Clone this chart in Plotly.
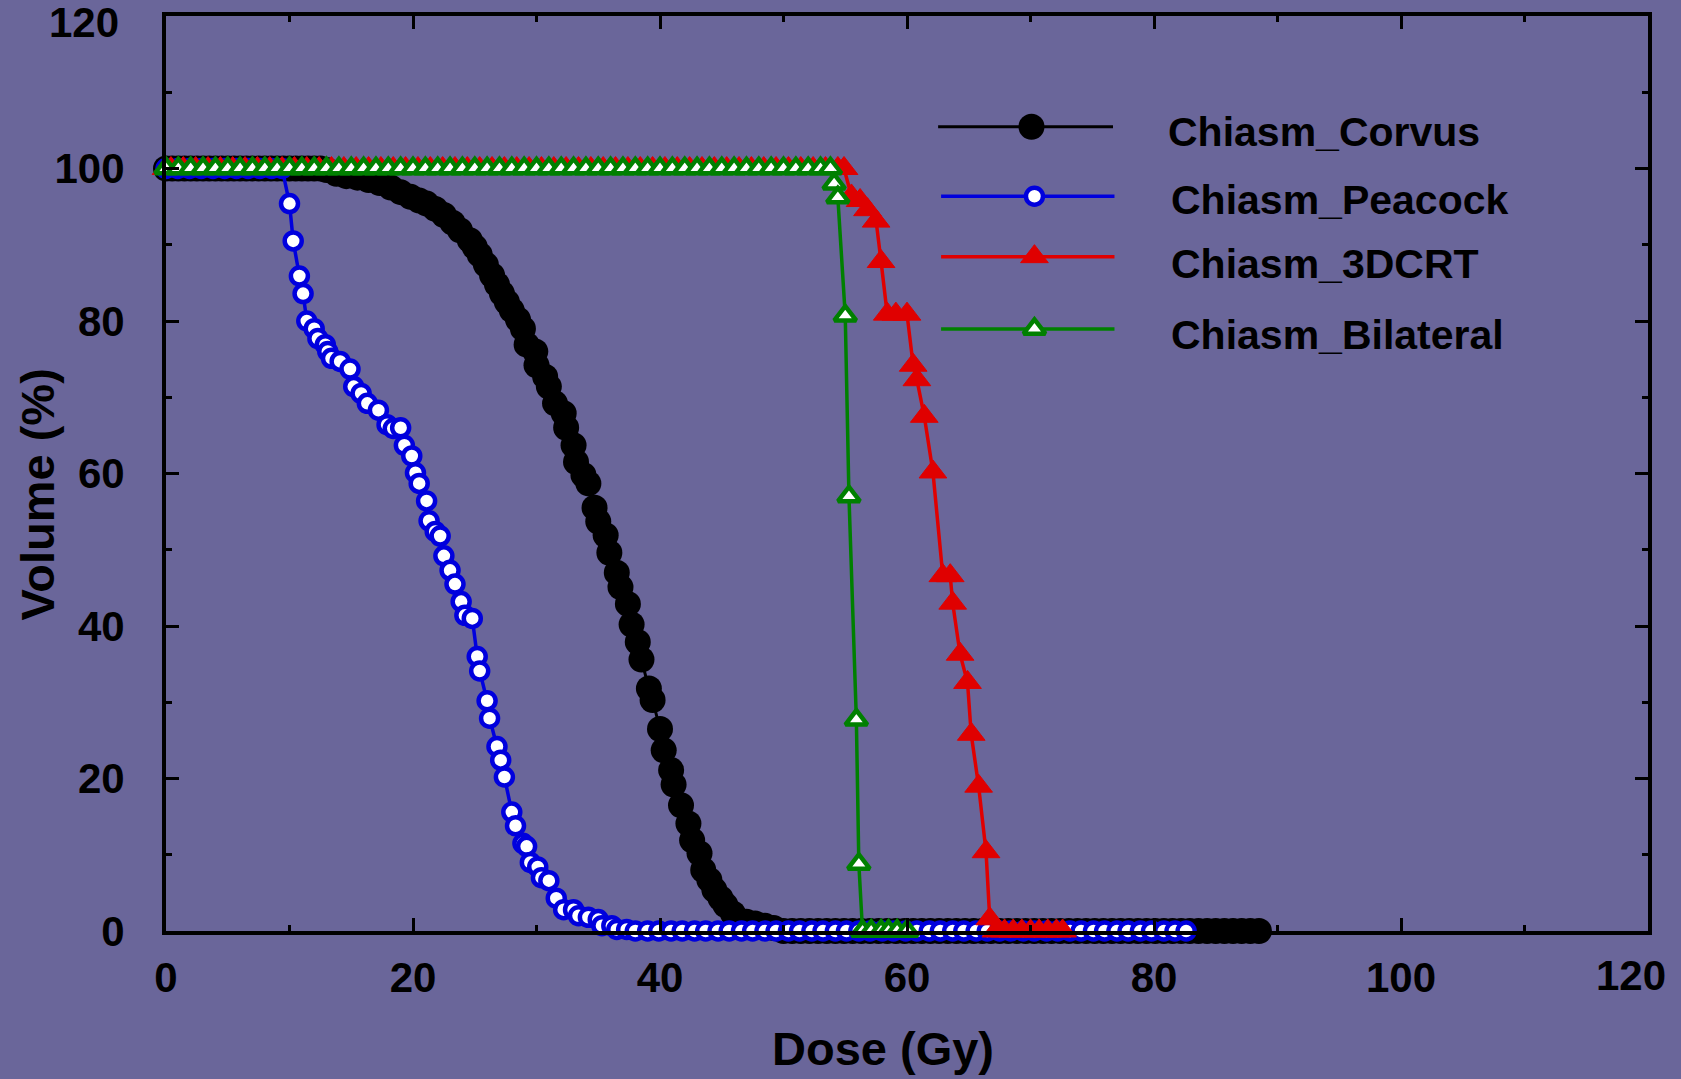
import plotly.graph_objects as go

# ---------------- data ----------------
corvus_x = [0, 0.5, 1, 1.5, 2, 2.5, 3, 3.5, 4, 4.5, 5, 5.5, 6, 6.5, 7, 7.5, 8, 8.5, 9, 9.5,
            10, 10.5, 11, 11.5, 12, 12.5,
            13.0, 13.8, 14.6, 15.5, 16.4, 17.3, 18.2, 19.0, 19.8, 20.5, 21.1, 21.8, 22.5, 23.2,
            23.8, 24.6, 25.0, 25.4, 25.9, 26.4, 26.8, 27.2, 27.6, 28.0, 28.5, 28.9, 29.2, 29.9,
            30.0, 30.7, 31.0, 31.5, 32.2, 32.4, 33.0, 33.2, 33.8, 34.2, 34.7, 35.0, 35.6, 35.9,
            36.5, 36.8, 37.4, 37.7, 38.2, 38.5, 39.1, 39.4, 40.0, 40.3, 40.9, 41.1, 41.7, 42.3,
            42.6, 43.2, 43.5, 44.0, 44.4, 44.9, 45.3, 45.9, 46.3, 47.0, 47.7, 48.5, 49.2,
            50.0, 50.7, 51.4, 52.1, 52.8, 53.5, 54.2, 54.9, 55.6, 56.3, 57.0, 57.7, 58.4, 59.1,
            59.8, 60.5, 61.2, 61.9, 62.6, 63.3, 64.0, 64.7, 65.4, 66.1, 66.8, 67.5, 68.2, 68.9,
            69.6, 70.3, 71.0, 71.7, 72.4, 73.1, 73.8, 74.5, 75.2, 75.9, 76.6, 77.3, 78.0, 78.7,
            79.4, 80.1, 80.8, 81.5, 82.2, 82.9, 83.6, 84.3, 85.0, 85.7, 86.4, 87.1, 87.8, 88.5]
corvus_y = [100] * 26 + [
            99.8, 99.3, 99.0, 98.8, 98.5, 98.1, 97.5, 96.9, 96.3, 95.8, 95.4, 94.7, 93.9, 92.9,
            91.9, 90.6, 89.7, 88.7, 87.4, 86.0, 84.8, 83.6, 82.5, 81.4, 80.2, 79.0, 76.9, 76.0,
            74.2, 72.7, 71.4, 69.2, 67.9, 66.0, 63.7, 61.5, 59.8, 58.7, 55.5, 53.7, 51.9, 49.6,
            47.0, 45.1, 42.9, 40.2, 37.9, 35.6, 31.8, 30.3, 26.5, 23.7, 21.1, 19.2, 16.5, 14.1,
            11.9, 10.2, 8.0, 6.7, 5.4, 4.3, 3.4, 2.3, 1.5, 1.2, 1.0, 0.7, 0.4] + [0] * 56

peacock_x = [0, 0.95, 1.9, 2.85, 3.8, 4.75, 5.7, 6.65, 7.6, 8.55, 9.4,
             10.0, 10.3, 10.8, 11.1, 11.4, 12.0, 12.3, 12.9, 13.1, 13.4, 14.1, 14.9, 15.2, 15.8,
             16.3, 17.2, 17.9, 18.4, 19.0, 19.3, 19.9, 20.2, 20.5, 21.1, 21.3, 21.8, 22.2, 22.5,
             23.0, 23.4, 23.9, 24.2, 24.8, 25.2, 25.4, 26.0, 26.2, 26.8, 27.1, 27.4, 28.0, 28.3,
             28.9, 29.2, 29.5, 30.1, 30.4, 31.0, 31.6, 32.2, 33.0, 33.4, 34.2, 35.0, 35.3, 36.1,
             36.5, 37.3,
             38.0, 39.0, 39.9, 40.9, 41.8, 42.8, 43.7, 44.7, 45.6, 46.6, 47.5, 48.5, 49.4, 50.4,
             51.3, 52.3, 53.2, 54.2, 55.1, 56.1, 57.0, 58.0, 58.9, 59.9, 60.8, 61.8, 62.7, 63.7,
             64.6, 65.6, 66.5, 67.5, 68.4, 69.4, 70.3, 71.3, 72.2, 73.2, 74.1, 75.1, 76.0, 77.0,
             77.9, 78.9, 79.8, 80.8, 81.7, 82.6]
peacock_y = [100] * 11 + [
             95.4, 90.5, 85.9, 83.6, 80.0, 79.0, 77.7, 76.9, 76.0, 75.1, 74.7, 73.7, 71.4, 70.5,
             69.2, 68.3, 66.4, 65.9, 66.0, 63.7, 62.3, 60.1, 58.7, 56.4, 53.8, 52.4, 51.8, 49.2,
             47.3, 45.5, 43.2, 41.4, 41.0, 36.0, 34.1, 30.2, 27.9, 24.2, 22.4, 20.2, 15.6, 13.8,
             11.5, 11.1, 9.0, 8.4, 7.0, 6.6, 4.3, 2.8, 2.8, 2.0, 1.8, 1.5, 0.7, 0.7,
             0.2, 0.2] + [0] * 48

crt_x = [0, 0.4, 1.4, 2.4, 3.4, 4.4, 5.4, 6.4, 7.4, 8.4, 9.4, 10.4, 11.4, 12.4, 13.4, 14.4,
         15.4, 16.4, 17.4, 18.4, 19.4, 20.4, 21.4, 22.4, 23.4, 24.4, 25.4, 26.4, 27.4, 28.4,
         29.4, 30.4, 31.4, 32.4, 33.4, 34.4, 35.4, 36.4, 37.4, 38.4, 39.4, 40.4, 41.4, 42.4,
         43.4, 44.4, 45.4, 46.4, 47.4, 48.4, 49.4, 50.4, 51.4, 52.4, 53.4, 54.4, 54.9,
         55.5, 56.2, 56.8, 57.5, 57.9, 58.4, 59.1, 60.0, 60.5, 60.8, 61.4, 62.1, 62.9, 63.5,
         63.7, 64.3, 64.9, 65.2, 65.8, 66.4, 66.7,
         67.2, 67.9, 68.6, 69.3, 70.0, 70.7, 71.4, 72.1, 72.6]
crt_y = [100] * 57 + [
         96.4, 95.8, 94.6, 93.1, 87.8, 80.9, 80.9, 80.9, 74.2, 72.3, 67.5, 60.2, 46.6, 46.6,
         43.0, 36.3, 32.6, 25.8, 19.0, 10.4, 1.6] + [0] * 9

bil_x = [0, 1, 2, 3, 4, 5, 6, 7, 8, 9, 10, 11, 12, 13, 14, 15, 16, 17, 18, 19, 20, 21, 22,
         23, 24, 25, 26, 27, 28, 29, 30, 31, 32, 33, 34, 35, 36, 37, 38, 39, 40, 41, 42, 43,
         44, 45, 46, 47, 48, 49, 50, 51, 52, 53, 53.8,
         54.1, 54.4, 55.0, 55.3, 55.9, 56.1, 56.4, 57.1, 57.9, 58.5, 59.2, 60.0]
bil_y = [100] * 55 + [98.0, 96.2, 80.7, 57.0, 27.7, 8.8, 0, 0, 0, 0, 0, 0]

series_names = ["Chiasm_Corvus", "Chiasm_Peacock", "Chiasm_3DCRT", "Chiasm_Bilateral"]
x_ticks = [0, 20, 40, 60, 80, 100, 120]
y_ticks = [0, 20, 40, 60, 80, 100, 120]

# ---------------- styling ----------------
BG = "rgb(106,102,154)"
FONT = "Liberation Sans, Arial, sans-serif"
TICKFONT = dict(family=FONT, size=42, color="black", weight="bold")

styles = [
    dict(line=dict(color="black", width=3),
         marker=dict(symbol="circle", size=26, color="black", line=dict(width=0))),
    dict(line=dict(color="#0000DD", width=3.5),
         marker=dict(symbol="circle", size=17, color="white", line=dict(color="#0000DD", width=4.5))),
    dict(line=dict(color="#E00000", width=3.5),
         marker=dict(symbol="triangle-up", size=24, color="#E00000", line=dict(color="#E00000", width=1))),
    dict(line=dict(color="#008000", width=3.5),
         marker=dict(symbol="triangle-up", size=19, color="white", line=dict(color="#008000", width=4.5))),
]
data = [(corvus_x, corvus_y), (peacock_x, peacock_y), (crt_x, crt_y), (bil_x, bil_y)]

fig = go.Figure()
for (xs, ys), st, name in zip(data, styles, series_names):
    fig.add_trace(go.Scatter(x=xs, y=ys, mode="lines+markers", name=name,
                             line=st["line"], marker=st["marker"],
                             cliponaxis=False, showlegend=False))

# custom legend drawn on an overlay axis (0..1 in plot area)
leg_rows = [0.879, 0.803, 0.737, 0.658]
leg_text_y = [0.873, 0.799, 0.729, 0.651]
leg_line_x = [(0.521, 0.639, 0.584), (0.523, 0.640, 0.586), (0.523, 0.640, 0.586), (0.523, 0.640, 0.586)]
leg_text_x = [0.675, 0.677, 0.677, 0.677]
for i, st in enumerate(styles):
    x0, x1, xm = leg_line_x[i]
    fig.add_trace(go.Scatter(x=[x0, x1], y=[leg_rows[i]] * 2, mode="lines", line=st["line"],
                             xaxis="x2", yaxis="y2", showlegend=False, hoverinfo="skip"))
    fig.add_trace(go.Scatter(x=[xm], y=[leg_rows[i]], mode="markers", marker=st["marker"],
                             xaxis="x2", yaxis="y2", showlegend=False, hoverinfo="skip"))
    fig.add_annotation(x=leg_text_x[i], y=leg_text_y[i], xref="paper", yref="paper",
                       text=series_names[i], showarrow=False, xanchor="left", yanchor="middle",
                       font=dict(family=FONT, size=41, color="black", weight="bold"))

axis_common = dict(
    showgrid=False, zeroline=False, showline=True, linecolor="black", linewidth=4,
    mirror="ticks", ticks="inside", ticklen=13, tickwidth=3, tickcolor="black",
    automargin=False, tickfont=TICKFONT,
    minor=dict(ticks="inside", ticklen=6, tickwidth=3, tickcolor="black", dtick=10, showgrid=False),
)

# the end labels (120) sit at the figure edge, so they are placed as annotations shifted inward
x_ticktext = [str(v) for v in x_ticks[:-1]] + [""]
y_ticktext = [str(v) for v in y_ticks[:-1]] + [""]

fig.update_layout(
    width=1681, height=1079,
    margin=dict(l=166, r=33, t=16, b=148, autoexpand=False),
    paper_bgcolor=BG, plot_bgcolor=BG,
    showlegend=False,
    xaxis=dict(range=[0, 120], tickvals=x_ticks, ticktext=x_ticktext,
               ticklabelstandoff=7, **axis_common),
    yaxis=dict(range=[0, 120], tickvals=y_ticks, ticktext=y_ticktext,
               ticklabelstandoff=29, **axis_common),
    xaxis2=dict(overlaying="x", range=[0, 1], visible=False, fixedrange=True),
    yaxis2=dict(overlaying="y", range=[0, 1], visible=False, fixedrange=True),
)

fig.add_annotation(x=0.9885, y=-0.049, xref="paper", yref="paper", text=str(x_ticks[-1]),
                   showarrow=False, xanchor="center", yanchor="middle", font=TICKFONT)
fig.add_annotation(x=-0.0304, y=0.9934, xref="paper", yref="paper", text=str(y_ticks[-1]),
                   showarrow=False, xanchor="right", yanchor="middle", font=TICKFONT)

fig.add_annotation(x=0.484, y=-0.128, xref="paper", yref="paper", text="Dose (Gy)",
                   showarrow=False, xanchor="center", yanchor="middle",
                   font=dict(family=FONT, size=47, color="black", weight="bold"))
fig.add_annotation(x=-0.087, y=0.477, xref="paper", yref="paper", text="Volume (%)",
                   showarrow=False, xanchor="center", yanchor="middle", textangle=-90,
                   font=dict(family=FONT, size=47, color="black", weight="bold"))

fig.write_html("out.html")
